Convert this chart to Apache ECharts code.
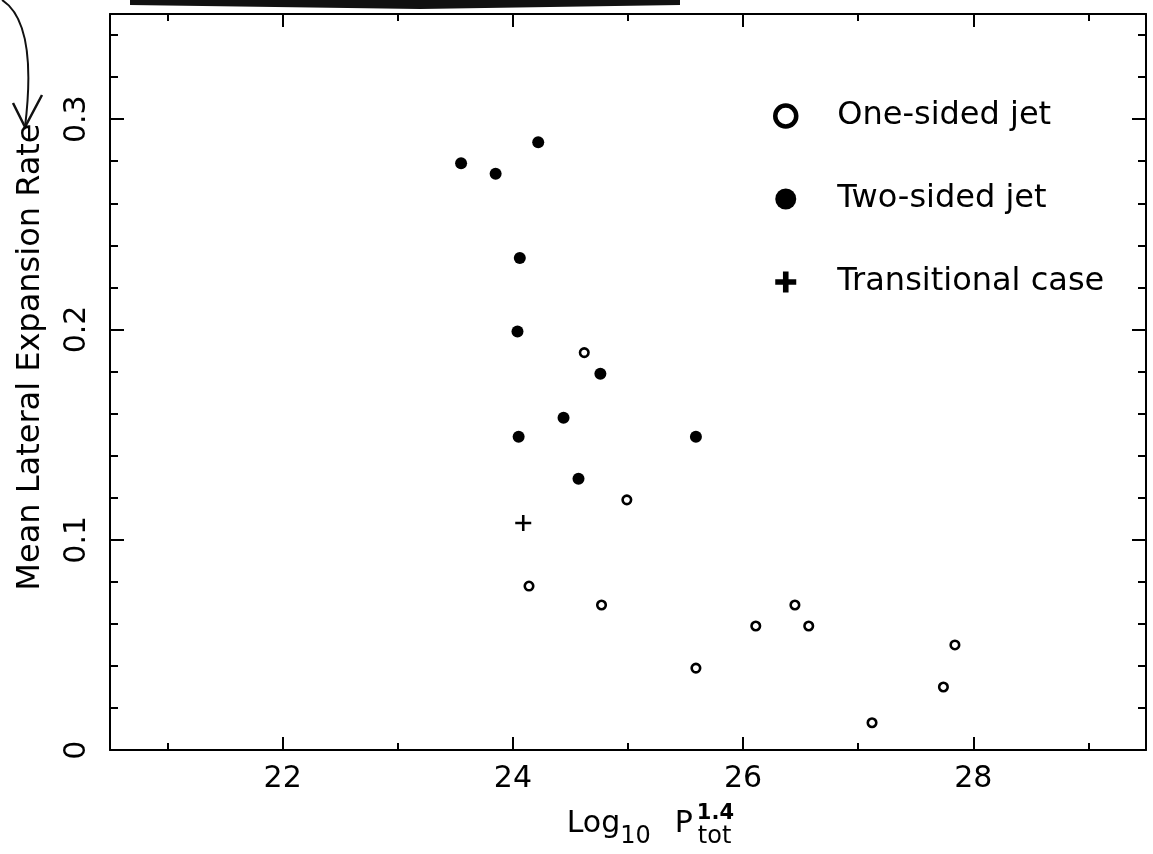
<!DOCTYPE html>
<html>
<head>
<meta charset="utf-8">
<script src="https://cdn.jsdelivr.net/npm/echarts@6/dist/echarts.min.js"></script>
<style>html,body{margin:0;padding:0;background:#fff;}#c{width:1153px;height:854px;}</style>
</head>
<body>
<div id="c"></div>
<script>
// ---- data ----
var oneSidedX = [24.62, 24.99, 24.14, 24.77, 25.59, 26.11, 26.45, 26.57, 27.12, 27.74, 27.84];
var oneSidedY = [0.189, 0.119, 0.078, 0.069, 0.039, 0.059, 0.069, 0.059, 0.013, 0.030, 0.050];
var twoSidedX = [23.55, 23.85, 24.22, 24.06, 24.04, 24.76, 24.44, 24.05, 25.59, 24.57];
var twoSidedY = [0.279, 0.274, 0.289, 0.234, 0.199, 0.179, 0.158, 0.149, 0.149, 0.129];
var transX = [24.09];
var transY = [0.108];
var xMajor = [22, 24, 26, 28];
var xMinor = [21, 23, 25, 27, 29];
var yMajor = [0, 0.1, 0.2, 0.3];
var yMinor = [0.02, 0.04, 0.06, 0.08, 0.12, 0.14, 0.16, 0.18, 0.22, 0.24, 0.26, 0.28, 0.32, 0.34];
var seriesNames = ['One-sided jet', 'Two-sided jet', 'Transitional case'];
var xName = '{n|Log}{sub|10}{sp| }{n|P}{sup|1.4}{sub|tot}';
var yName = 'Mean Lateral Expansion Rate';

function pairs(xs, ys) { return xs.map(function (x, i) { return [x, ys[i]]; }); }

var FONT = 'DejaVu Sans';
var black = '#000';
var xMin = 20.5, xMax = 29.5, yMin = 0, yMax = 0.35;
var plusThin = 'path://M6.3,0H8.7V6.3H15V8.7H8.7V15H6.3V8.7H0V6.3H6.3Z';
var plusBold = 'path://M5.5,0H9.5V5.5H15V9.5H9.5V15H5.5V9.5H0V5.5H5.5Z';

function xAxisDef(pos, ticks, len, showLine, showLabel, extra) {
  var a = {
    type: 'value', min: xMin, max: xMax, position: pos,
    axisLine: { show: showLine, onZero: false, lineStyle: { color: black, width: 2 } },
    axisTick: { show: true, inside: true, length: len, customValues: ticks, lineStyle: { color: black, width: 2 } },
    axisLabel: { show: showLabel, customValues: ticks, fontSize: 30, color: black, fontFamily: FONT, margin: 14 },
    splitLine: { show: false }
  };
  return Object.assign(a, extra || {});
}
function yAxisDef(pos, ticks, len, showLine, showLabel, extra) {
  var a = {
    type: 'value', min: yMin, max: yMax, position: pos,
    axisLine: { show: showLine, onZero: false, lineStyle: { color: black, width: 2 } },
    axisTick: { show: true, inside: true, length: len, customValues: ticks, lineStyle: { color: black, width: 2 } },
    axisLabel: { show: showLabel, customValues: ticks, fontSize: 30, color: black, fontFamily: FONT, rotate: 90, margin: 18,
      formatter: function (v) { return String(Math.round(v * 10) / 10); } },
    splitLine: { show: false }
  };
  return Object.assign(a, extra || {});
}

var chart = echarts.init(document.getElementById('c'), null, { renderer: 'canvas' });
chart.setOption({
  animation: false,
  backgroundColor: '#fff',
  textStyle: { fontFamily: FONT, color: black },
  grid: { left: 110, right: 7, top: 14, bottom: 98 },
  xAxis: [
    xAxisDef('bottom', xMajor, 13, true, true, {
      name: xName, nameLocation: 'middle', nameGap: 36,
      nameTextStyle: {
        padding: [0, 0, 0, 42],
        rich: {
          n: { fontSize: 30, lineHeight: 30, color: black, fontFamily: FONT, align: 'left' },
          sp: { fontSize: 30, lineHeight: 30, width: 24, align: 'left' },
          sub: { fontSize: 24, lineHeight: 24, color: black, fontFamily: FONT, align: 'left', padding: [26, 0, 0, 0] },
          sup: { fontSize: 21, lineHeight: 21, fontWeight: 'bold', color: black, fontFamily: FONT, width: 1, align: 'left', padding: [0, 0, 20, 4] }
        }
      }
    }),
    xAxisDef('bottom', xMinor, 7, false, false),
    xAxisDef('top', xMajor, 13, true, false),
    xAxisDef('top', xMinor, 7, false, false)
  ],
  yAxis: [
    yAxisDef('left', yMajor, 14, true, true, {
      name: yName, nameLocation: 'middle', nameGap: 63,
      nameTextStyle: { fontSize: 32, lineHeight: 32, color: black, fontFamily: FONT, padding: [0, 0, 0, 50] }
    }),
    yAxisDef('left', yMinor, 8, false, false),
    yAxisDef('right', yMajor, 14, true, false),
    yAxisDef('right', yMinor, 8, false, false)
  ],
  legend: {
    orient: 'vertical', left: 773, top: 100, padding: 0,
    itemWidth: 21, itemHeight: 21, itemGap: 51,
    textStyle: { fontSize: 32, color: black, fontFamily: FONT, lineHeight: 21, padding: [0, 0, 0, 36] },
    data: [
      { name: seriesNames[0], icon: 'circle', itemStyle: { color: '#fff', borderColor: black, borderWidth: 4.5 } },
      { name: seriesNames[1], icon: 'circle', itemStyle: { color: black, borderWidth: 0 } },
      { name: seriesNames[2], icon: plusBold, itemStyle: { color: black, borderWidth: 0 } }
    ]
  },
  series: [
    { name: seriesNames[0], type: 'scatter', symbol: 'circle', symbolSize: 8.5,
      itemStyle: { color: '#fff', borderColor: black, borderWidth: 2.6, opacity: 1 },
      data: pairs(oneSidedX, oneSidedY) },
    { name: seriesNames[1], type: 'scatter', symbol: 'circle', symbolSize: 12,
      itemStyle: { color: black, opacity: 1 },
      data: pairs(twoSidedX, twoSidedY) },
    { name: seriesNames[2], type: 'scatter', symbol: plusThin, symbolSize: 16,
      itemStyle: { color: black, opacity: 1 },
      data: pairs(transX, transY) }
  ],
  graphic: [
    { type: 'polygon', shape: { points: [[130, 0], [680, 0], [680, 5], [420, 9], [130, 5]] }, style: { fill: '#111' } },
    { type: 'bezierCurve', shape: { x1: 2, y1: 0, cpx1: 30, cpy1: 18, cpx2: 32, cpy2: 70, x2: 25, y2: 127 },
      style: { stroke: '#111', lineWidth: 2, fill: null } },
    { type: 'polyline', shape: { points: [[13, 103], [25, 127], [42, 95]] }, style: { stroke: '#111', lineWidth: 2.5, fill: null } }
  ]
});
</script>
</body>
</html>
